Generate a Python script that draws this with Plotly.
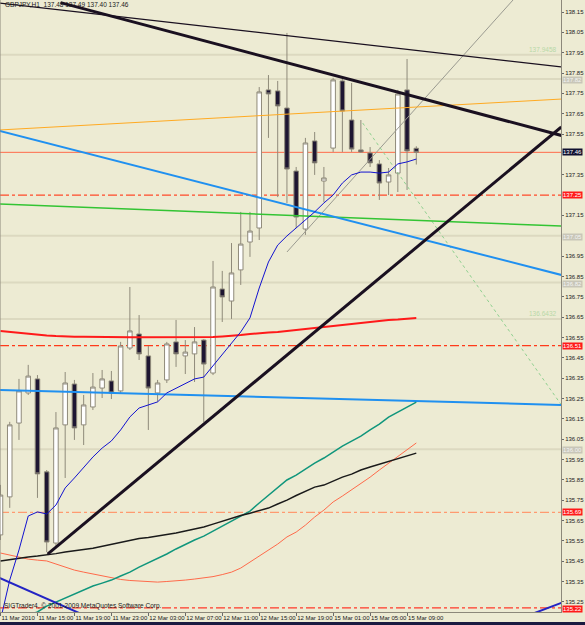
import plotly.graph_objects as go

# ---------------- data ----------------
bars = list(range(46))
opens = [135.579, 135.766, 136.129, 136.277, 136.346, 135.889, 135.539, 136.120, 136.321, 136.120,
         136.208, 136.301, 136.336, 136.287, 136.498, 136.567, 136.459, 136.277, 136.341, 136.528,
         136.459, 136.469, 136.537, 136.375, 136.788, 136.729, 136.882, 137.019, 137.088, 137.767,
         137.762, 137.678, 137.368, 137.083, 137.516, 137.319, 137.481, 137.811, 137.619, 137.472,
         137.457, 137.403, 137.314, 137.358, 137.767, 137.480]
highs = [135.825, 136.135, 136.346, 136.415, 136.365, 135.898, 136.183, 136.380, 136.341, 136.267,
         136.375, 136.390, 136.385, 136.528, 136.798, 136.660, 136.508, 136.341, 136.528, 136.636,
         136.537, 136.601, 136.542, 136.926, 136.877, 137.014, 137.167, 137.167, 137.781, 137.840,
         137.811, 138.047, 137.388, 137.531, 137.560, 137.388, 137.826, 137.826, 137.801, 137.619,
         137.486, 137.422, 137.383, 137.767, 137.919, 137.490]
lows = [135.554, 135.712, 136.046, 136.267, 135.761, 135.495, 135.525, 135.859, 136.046, 136.021,
        136.193, 136.252, 136.247, 136.277, 136.488, 136.439, 136.095, 136.233, 136.326, 136.405,
        136.370, 136.331, 136.134, 136.365, 136.626, 136.641, 136.808, 136.946, 137.029, 137.531,
        137.240, 137.211, 137.088, 137.054, 137.349, 137.216, 137.462, 137.462, 137.462, 137.457,
        137.388, 137.226, 137.250, 137.265, 137.275, 137.400]
closes = [135.775, 136.120, 136.287, 136.360, 135.879, 135.544, 136.105, 136.326, 136.105, 136.218,
          136.306, 136.346, 136.277, 136.508, 136.582, 136.469, 136.301, 136.326, 136.518, 136.469,
          136.478, 136.528, 136.419, 136.798, 136.749, 136.867, 137.009, 137.073, 137.757, 137.747,
          137.688, 137.378, 137.142, 137.506, 137.408, 137.334, 137.816, 137.663, 137.476, 137.462,
          137.408, 137.309, 137.349, 137.747, 137.467, 137.460]

ma_blue = [135.161, 135.357, 135.505, 135.672, 135.692, 135.682, 135.726, 135.810, 135.859, 135.913,
           135.962, 136.006, 136.041, 136.095, 136.159, 136.203, 136.218, 136.233, 136.277, 136.301,
           136.326, 136.346, 136.355, 136.410, 136.464, 136.518, 136.577, 136.646, 136.793, 136.921,
           137.004, 137.049, 137.088, 137.127, 137.167, 137.211, 137.250, 137.309, 137.349, 137.363,
           137.363, 137.358, 137.363, 137.403, 137.413, 137.427]
ma_red = [136.582, 136.577, 136.572, 136.567, 136.562, 136.560, 136.557, 136.554, 136.553, 136.553,
          136.552, 136.552, 136.552, 136.551, 136.551, 136.551, 136.551, 136.551, 136.551, 136.551,
          136.552, 136.552, 136.552, 136.552, 136.555, 136.557, 136.562, 136.567, 136.572, 136.574,
          136.577, 136.582, 136.587, 136.592, 136.597, 136.601, 136.606, 136.611, 136.616, 136.621,
          136.626, 136.631, 136.636, 136.638, 136.643, 136.645]
ma_black = [135.451, 135.458, 135.465, 135.470, 135.475, 135.480, 135.487, 135.495, 135.500, 135.507,
            135.514, 135.524, 135.534, 135.544, 135.554, 135.561, 135.566, 135.573, 135.578, 135.588,
            135.598, 135.608, 135.618, 135.632, 135.647, 135.662, 135.674, 135.686, 135.699, 135.711,
            135.731, 135.750, 135.773, 135.795, 135.814, 135.824, 135.844, 135.863, 135.878, 135.898,
            135.913, 135.927, 135.940, 135.952, 135.967, 135.981]
ma_teal = [135.136, 135.156, 135.170, 135.185, 135.200, 135.229, 135.249, 135.269, 135.288, 135.308,
           135.328, 135.342, 135.357, 135.377, 135.396, 135.421, 135.441, 135.465, 135.485, 135.510,
           135.534, 135.554, 135.573, 135.598, 135.623, 135.647, 135.672, 135.696, 135.736, 135.775,
           135.814, 135.849, 135.873, 135.903, 135.932, 135.957, 135.986, 136.016, 136.040, 136.065,
           136.095, 136.124, 136.158, 136.183, 136.208, 136.232]
ma_orange = [135.490, 135.480, 135.470, 135.460, 135.455, 135.451, 135.436, 135.421, 135.406, 135.396,
             135.387, 135.377, 135.367, 135.360, 135.355, 135.352, 135.347, 135.347, 135.350, 135.352,
             135.357, 135.362, 135.367, 135.374, 135.384, 135.396, 135.416, 135.446, 135.475, 135.505,
             135.534, 135.569, 135.593, 135.627, 135.667, 135.701, 135.741, 135.770, 135.800, 135.834,
             135.863, 135.898, 135.932, 135.962, 135.996, 136.031]

tick_bars = [0, 4, 8, 12, 16, 20, 24, 28, 32, 36, 40, 44]
tick_text = ["11 Mar 2010", "11 Mar 15:00", "11 Mar 19:00", "11 Mar 23:00", "12 Mar 03:00",
             "12 Mar 07:00", "12 Mar 11:00", "12 Mar 15:00", "12 Mar 19:00", "15 Mar 01:00",
             "15 Mar 05:00", "15 Mar 09:00"]
price_ticks = [135.25, 135.35, 135.45, 135.55, 135.65, 135.75, 135.85, 135.95, 136.05, 136.15,
               136.25, 136.35, 136.45, 136.55, 136.65, 136.75, 136.85, 136.95, 137.15,
               137.35, 137.55, 137.65, 137.75, 137.85, 137.95, 138.05, 138.15]

# trend lines: [bar_start, bar_end], [price_start, price_end]
tl_thick_down_x, tl_thick_down_y = [6.5, 60.7], [138.196, 137.543]
tl_thin_down_x, tl_thin_down_y = [-0.1, 60.7], [138.194, 137.880]
tl_thick_up_x, tl_thick_up_y = [5.1, 60.7], [135.485, 137.585]
tl_grey_up_x, tl_grey_up_y = [31.0, 60.7], [136.970, 138.474]
tl_green_dot_x, tl_green_dot_y = [39.2, 60.7], [137.604, 136.218]
tl_orange_x, tl_orange_y = [-0.1, 60.7], [137.570, 137.722]
tl_blue_hi_x, tl_blue_hi_y = [-0.1, 60.7], [137.565, 136.857]
tl_green_x, tl_green_y = [-0.1, 60.7], [137.206, 137.098]
tl_blue_lo_x, tl_blue_lo_y = [-0.1, 60.7], [136.292, 136.218]
tl_navy_l_x, tl_navy_l_y = [-1.0, 12.0], [135.386, 135.125]
tl_navy_r_x, tl_navy_r_y = [57.5, 60.7], [135.190, 135.245]

# horizontal levels
bid_level = 137.46
dashdot_levels = [137.25, 136.51, 135.69, 135.22]
dashdot_colors = ["#ff4a2a", "#ff3a1a", "#ff9a70", "#ff3a2a"]
pale_levels = [137.94, 137.82, 137.05, 136.82, 136.64, 136.00]
grey_box_levels = [137.82, 137.05, 136.82, 136.00]

# ---------------- figure ----------------
BG = "#EDEBD3"
FONT = "Liberation Sans, Arial, sans-serif"
fig = go.Figure()

shapes = []
for lv in pale_levels:
    shapes.append(dict(type="line", xref="paper", x0=0, x1=1, yref="y", y0=lv, y1=lv,
                       line=dict(color="#dcd9c0", width=2), layer="below"))
for lv, c in zip(dashdot_levels, dashdot_colors):
    shapes.append(dict(type="line", xref="paper", x0=0, x1=1, yref="y", y0=lv, y1=lv,
                       line=dict(color=c, width=1.2, dash="dashdot"), layer="below"))
shapes.append(dict(type="line", xref="paper", x0=0, x1=1, yref="y", y0=bid_level, y1=bid_level,
                   line=dict(color="#ff6a4a", width=1), layer="below"))
# frame
shapes.append(dict(type="line", xref="paper", x0=0, x1=0, yref="paper", y0=0, y1=1,
                   line=dict(color="#8c887a", width=1)))
shapes.append(dict(type="rect", xref="paper", x0=-0.01, x1=1.06, yref="paper", y0=-0.0165, y1=-0.03,
                   fillcolor="#1a1a40", line=dict(width=0)))


def seg(xs, ys, color, width, dash="solid"):
    fig.add_trace(go.Scatter(x=xs, y=ys, mode="lines", line=dict(color=color, width=width, dash=dash),
                             hoverinfo="skip", showlegend=False))


seg(tl_grey_up_x, tl_grey_up_y, "#9a9a90", 1)
seg(tl_green_dot_x, tl_green_dot_y, "#8fd08f", 1, "dot")
seg(tl_orange_x, tl_orange_y, "#ffaa22", 1)
seg(tl_green_x, tl_green_y, "#33c433", 1.5)
seg(tl_blue_hi_x, tl_blue_hi_y, "#2090f0", 2)
seg(tl_blue_lo_x, tl_blue_lo_y, "#2090f0", 2)

seg(bars, ma_red, "#ff1a1a", 2)
seg(bars, ma_orange, "#ff6a4a", 1)
seg(bars, ma_teal, "#10967c", 1.5)
seg(bars, ma_black, "#1a1a1a", 1.5)

fig.add_trace(go.Candlestick(
    x=bars, open=opens, high=highs, low=lows, close=closes,
    increasing=dict(line=dict(color="#8f8a7a", width=1), fillcolor="#ffffff"),
    decreasing=dict(line=dict(color="#8f8a7a", width=1), fillcolor="#1e1632"),
    whiskerwidth=0, hoverinfo="skip", showlegend=False))

seg(bars, ma_blue, "#1212d0", 1)
seg(tl_navy_l_x, tl_navy_l_y, "#2424c4", 2)
seg(tl_navy_r_x, tl_navy_r_y, "#2424c4", 2)
seg(tl_thin_down_x, tl_thin_down_y, "#1a1020", 1.2)
seg(tl_thick_down_x, tl_thick_down_y, "#1a1020", 3)
seg(tl_thick_up_x, tl_thick_up_y, "#1a1020", 3)

annotations = [
    dict(xref="paper", yref="paper", x=0, y=1, xanchor="left", yanchor="top", xshift=3, yshift=1,
         text="GBPJPY,H1  137.48 137.49 137.40 137.46", showarrow=False,
         font=dict(family=FONT, size=6.5, color="#1a1a1a")),
    dict(xref="paper", yref="paper", x=0, y=0, xanchor="left", yanchor="bottom", xshift=2, yshift=0,
         text="SIGTrader4, © 2001-2009 MetaQuotes Software Corp.", showarrow=False,
         font=dict(family=FONT, size=6.5, color="#1a1a1a")),
    dict(xref="paper", yref="y", x=0.995, y=pale_levels[0], xanchor="right", yanchor="bottom",
         text="137.9458", showarrow=False, font=dict(family=FONT, size=6.5, color="#b8d8a8")),
    dict(xref="paper", yref="y", x=0.995, y=pale_levels[4], xanchor="right", yanchor="bottom",
         text="136.6432", showarrow=False, font=dict(family=FONT, size=6.5, color="#b8d8a8")),
]


def axis_box(val, bg, fg, txt, shift=0):
    return dict(xref="paper", yref="y", x=1, y=val, xanchor="left", yanchor="middle", xshift=1,
                yshift=shift, text=txt, showarrow=False, bgcolor=bg, borderpad=0,
                font=dict(family=FONT, size=6, color=fg))


annotations.append(axis_box(bid_level, "#101030", "#ffffff", "137.46"))
for lv in dashdot_levels:
    annotations.append(axis_box(lv, "#ff1a1a", "#ffffff", "%.2f" % lv, -1 if lv < 135.3 else 0))
for lv in grey_box_levels:
    annotations.append(axis_box(lv, "#c8c6b8", "#f4f4f4", "%.2f" % lv, -1))

fig.update_layout(
    width=585, height=625,
    margin=dict(l=0, r=24, t=0, b=13, autoexpand=False),
    paper_bgcolor=BG, plot_bgcolor=BG,
    showlegend=False,
    shapes=shapes, annotations=annotations,
    font=dict(family=FONT, size=6, color="#1a1a1a"),
    xaxis=dict(range=[-0.054, 60.66], tickvals=tick_bars, ticktext=tick_text, tickangle=0,
               ticks="outside", ticklen=3, tickcolor="#6a6a6a", ticklabelposition="outside right",
               showline=True, linecolor="#8c887a", showgrid=False, zeroline=False, automargin=False,
               rangeslider=dict(visible=False), tickfont=dict(size=6), fixedrange=True),
    yaxis=dict(side="right", range=[135.200, 138.209], tickvals=price_ticks, tickformat=".2f",
               ticks="outside", ticklen=2, tickcolor="#6a6a6a", automargin=False,
               ticklabelstandoff=0,
               showline=True, linecolor="#8c887a", showgrid=False, zeroline=False,
               tickfont=dict(size=6), fixedrange=True),
)

fig.write_html("out.html")
